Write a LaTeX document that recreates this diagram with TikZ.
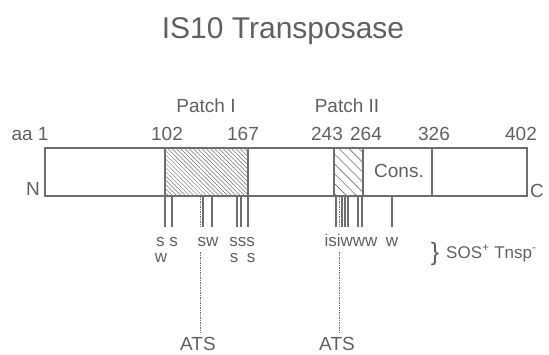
\documentclass[tikz,border=0pt]{standalone}
\usepackage{fontspec}
\setmainfont{Liberation Sans}
\usetikzlibrary{patterns.meta}
\definecolor{ink}{HTML}{6E6E6E}
\definecolor{txt}{HTML}{606060}

\begin{document}
\begin{tikzpicture}[x=1pt,y=-1pt,
  lbl/.style={text=txt, font=\fontsize{19}{22}\selectfont, inner sep=0pt, anchor=base},
  mut/.style={text=txt, font=\fontsize{17}{19}\selectfont, inner sep=0pt, anchor=base},
  barline/.style={draw=ink, line width=1.1pt},
  tick/.style={draw=ink, line width=1.1pt},
  ats/.style={draw=ink, line width=1pt, dash pattern=on 1.5pt off 1pt},
]
\useasboundingbox (0,0) rectangle (549,354);

% title
\node[text=txt, font=\fontsize{30}{34}\selectfont, inner sep=0pt, anchor=base] (title) at (283,38) {IS10 Transposase};

% hatched patches
\fill[pattern={Lines[angle=-45,distance=3pt,line width=0.5pt]}, pattern color=ink]
  (165,148) rectangle (248,196);
\fill[pattern={Lines[angle=-45,distance=7pt,line width=0.6pt]}, pattern color=ink]
  (334,148) rectangle (363,196);

% protein bar and domain borders
\coordinate (barNW) at (45,148);
\coordinate (barSE) at (527,196);
\draw[barline] (barNW) rectangle (barSE);
\foreach \xx in {165,248,334,363,432}
  \draw[barline] (\xx,148) -- (\xx,196);

% residue numbers
\node[lbl] (aa1)  at (30,140)  {aa 1};
\node[lbl] (n102) at (167,140) {102};
\node[lbl] (n167) at (243,140) {167};
\node[lbl] (n243) at (327,140) {243};
\node[lbl] (n264) at (366,140) {264};
\node[lbl] (n326) at (434,140) {326};
\node[lbl] (n402) at (521,140) {402};

% patch labels
\node[lbl] (patchI)  at (206,112) {Patch I};
\node[lbl] (patchII) at (347,112) {Patch II};
\node[lbl] (cons)    at (399,177) {Cons.};
\node[lbl] (nterm)   at (33,195)  {N};
\node[lbl] (cterm)   at (537,197) {C};

% mutation ticks below the bar
\foreach \xx in {165,172,203,212,237,241,248,336,342,345,348,358,362,392}
  \draw[tick] (\xx,196) -- (\xx,227);

% ATS mutations: dotted ticks, interrupted by the letter row
\coordinate (atsA) at (200,333);
\coordinate (atsB) at (339,333);
\draw[ats] (200,196) -- (200,227) (200,252) -- (atsA);
\draw[ats] (339,196) -- (339,227) (339,252) -- (atsB);
\node[lbl] (atsAl) at (198,350) {ATS};
\node[lbl] (atsBl) at (337,350) {ATS};

% mutation classes
\node[mut] (m1) at (167,246) {s s};
\node[mut] (m2) at (208,246) {sw};
\node[mut] (m3) at (242,246) {sss};
\node[mut] (m4) at (161,262) {w};
\node[mut] (m5) at (234,262) {s};
\node[mut] (m6) at (251,262) {s};
\node[mut] (m7) at (351,246) {isiwww};
\node[mut] (m8) at (392,246) {w};

% phenotype
\node[text=txt, font=\fontsize{25}{27}\selectfont, inner sep=0pt] (brace) at (435,254) {\}};
\node[text=txt, font=\fontsize{17}{20}\selectfont, inner sep=0pt, anchor=base west] (pheno) at (446,258)
  {SOS\textsuperscript{+} Tnsp\textsuperscript{-}};
\end{tikzpicture}
\end{document}
